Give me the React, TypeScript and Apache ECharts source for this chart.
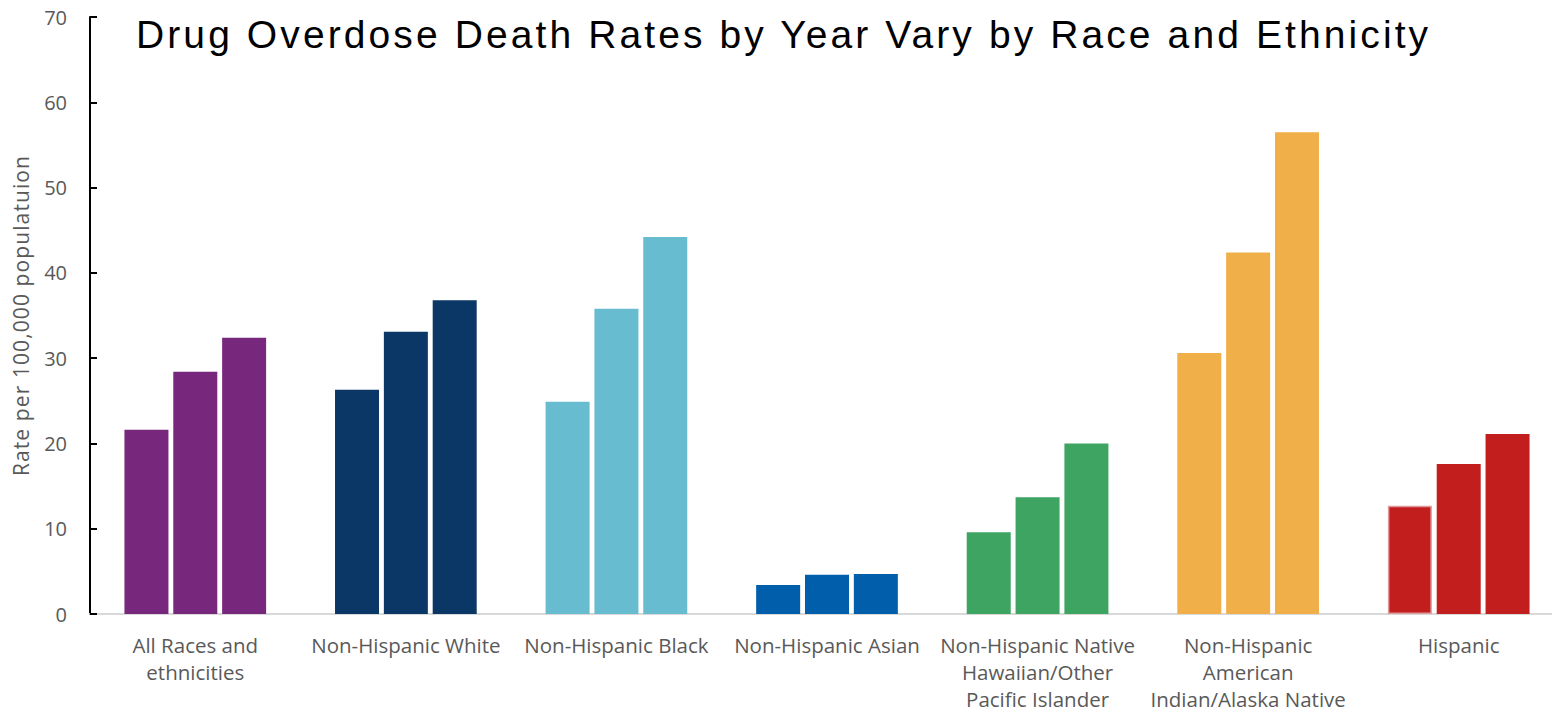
import React, { useEffect, useRef } from "react";
import * as echarts from "echarts";

// Groups shown along the x axis
const categories = [
  "All Races and\nethnicities",
  "Non-Hispanic White",
  "Non-Hispanic Black",
  "Non-Hispanic Asian",
  "Non-Hispanic Native\nHawaiian/Other\nPacific Islander",
  "Non-Hispanic\nAmerican\nIndian/Alaska Native",
  "Hispanic",
];

// One colour per group
const groupColors = ["#78287C", "#0B3766", "#67BCCF", "#005EAB", "#3DA462", "#F0AF48", "#C21E1E"];

// Rate per 100,000 population, one array per year
const years = ["2019", "2020", "2021"];
const rates2019 = [21.6, 26.3, 24.9, 3.4, 9.6, 30.6, 12.7];
const rates2020 = [28.4, 33.1, 35.8, 4.6, 13.7, 42.4, 17.6];
const rates2021 = [32.4, 36.8, 44.2, 4.7, 20.0, 56.5, 21.1];

const yTicks = { min: 0, max: 70, interval: 10 };

const TITLE = "Drug Overdose Death Rates by Year Vary by Race and Ethnicity";
const Y_NAME = "Rate per 100,000 populatuion";

// Extra tracking for the wide-set title and axis name
const letterSpacing: Record<string, string> = {
  [TITLE]: "3.1px",
  [Y_NAME]: "1.1px",
};

export default function App() {
  const ref = useRef<HTMLDivElement>(null);

  useEffect(() => {
    if (!ref.current) return;
    const el = ref.current;
    const chart = echarts.init(el, undefined, { renderer: "svg" });

    const makeSeries = (name: string, values: number[], idx: number) => ({
      name,
      type: "bar",
      barWidth: 44,
      barGap: "11%",
      data: values.map((v, i) => ({
        value: v,
        itemStyle: {
          color: groupColors[i],
          ...(idx === 0 && i === 6 ? { borderColor: "#E09A9E", borderWidth: 1.5 } : {}),
        },
      })),
    });

    const applySpacing = () => {
      el.querySelectorAll("text").forEach((t) => {
        const s = letterSpacing[t.textContent || ""];
        if (s) (t as SVGTextElement).style.letterSpacing = s;
      });
    };

    chart.on("finished", applySpacing);

    chart.setOption({
      animation: false,
      backgroundColor: "#ffffff",
      title: {
        text: TITLE,
        left: 136,
        top: 15,
        padding: 0,
        textStyle: {
          fontFamily: "Liberation Sans",
          fontSize: 39,
          fontWeight: "normal",
          color: "#000000",
        },
      },
      grid: {
        left: 90,
        top: 17,
        width: 1474,
        bottom: 100,
        containLabel: false,
        outerBoundsMode: "none",
      },
      xAxis: {
        type: "category",
        data: categories,
        axisLine: { lineStyle: { color: "#D9D9D9", width: 2 } },
        axisTick: { show: false },
        axisLabel: {
          interval: 0,
          color: "#595959",
          fontFamily: "Open Sans",
          fontSize: 20.5,
          lineHeight: 27,
          margin: 17.5,
        },
      },
      yAxis: {
        type: "value",
        min: yTicks.min,
        max: yTicks.max,
        interval: yTicks.interval,
        name: Y_NAME,
        nameLocation: "middle",
        nameRotate: 90,
        nameGap: 59,
        nameTextStyle: { color: "#595959", fontFamily: "Open Sans", fontSize: 21 },
        axisLine: { show: true, lineStyle: { color: "#000000", width: 2 } },
        axisTick: { show: true, inside: true, length: 7, lineStyle: { color: "#000000", width: 2 } },
        axisLabel: { color: "#595959", fontFamily: "Open Sans", fontSize: 20, margin: 23 },
        splitLine: { show: false },
      },
      series: [
        makeSeries(years[0], rates2019, 0),
        makeSeries(years[1], rates2020, 1),
        makeSeries(years[2], rates2021, 2),
      ],
    });

    applySpacing();
    const raf = requestAnimationFrame(applySpacing);

    return () => {
      cancelAnimationFrame(raf);
      chart.dispose();
    };
  }, []);

  return (
    <div
      ref={ref}
      style={{ position: "absolute", left: 0, top: 0, width: 1552, height: 714 }}
    />
  );
}
